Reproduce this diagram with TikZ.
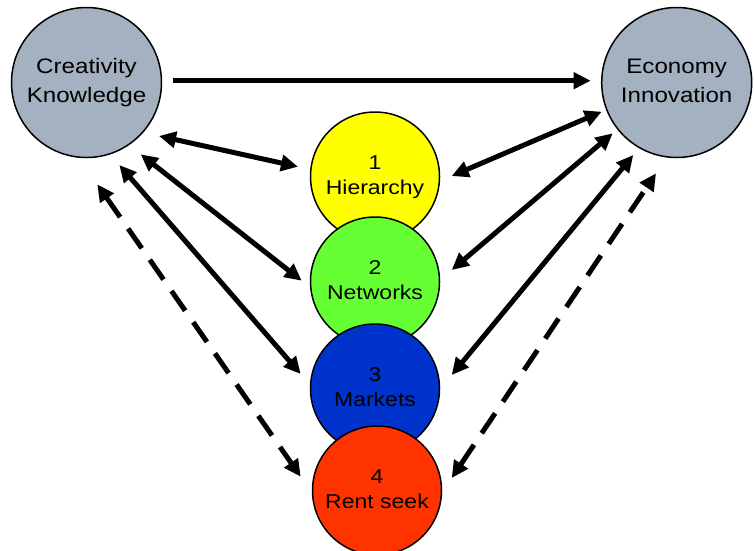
\documentclass[tikz,border=0pt]{standalone}
\usepackage{fontspec}
\setmainfont{Liberation Sans}
\usepackage{graphicx}
\usetikzlibrary{arrows.meta,calc}
\definecolor{greyblue}{RGB}{164,177,192}
\definecolor{cyellow}{RGB}{255,255,0}
\definecolor{cgreen}{RGB}{102,255,51}
\definecolor{cblue}{RGB}{0,51,204}
\definecolor{cred}{RGB}{255,51,0}
\newcommand{\bigtext}[2]{\scalebox{1.15}[1]{\fontsize{21}{29}\selectfont\begin{tabular}{@{}c@{}}#1\\#2\end{tabular}}}
\newcommand{\smalltext}[2]{\scalebox{1.15}[1]{\fontsize{20}{25}\selectfont\begin{tabular}{@{}c@{}}#1\\#2\end{tabular}}}
\begin{document}
\begin{tikzpicture}[x=1pt,y=1pt,
  bigcirc/.style={circle,draw=black,line width=1.5pt,fill=greyblue,minimum size=150pt,inner sep=0pt},
  midcirc/.style={circle,draw=black,line width=1.5pt,minimum size=129pt,inner sep=0pt},
  conn/.style={line width=5pt,-{Triangle[length=17pt,width=16pt]}},
  dbl/.style={line width=5pt,{Triangle[length=17pt,width=16pt]}-{Triangle[length=17pt,width=16pt]}},
  dsh/.style={dbl,dash pattern=on 24pt off 14pt}]
\useasboundingbox (0,0) rectangle (754,-550);
\node[bigcirc] (L) at (86.5,-82.5) {\bigtext{Creativity}{Knowledge}};
\node[bigcirc] (R) at (676.7,-82.5) {\bigtext{Economy}{Innovation}};
\node[midcirc,fill=cyellow] (H) at (375,-176.5) {\smalltext{1}{Hierarchy}};
\node[midcirc,fill=cgreen] (N) at (375,-281.5) {\smalltext{2}{Networks}};
\node[midcirc,fill=cblue] (M) at (375,-388.5) {\smalltext{3}{Markets}};
\node[midcirc,fill=cred] (S) at (377,-490.5) {\smalltext{4}{Rent seek}};
% top arrow
\draw[conn] ($(L)+(86.2,1.8)$) -- ($(R)+(-86,1.8)$);
% left arrows
\draw[dbl] ($(L)+(72.5,-53.5)$) -- ($(H)+(-77,9.8)$);
\draw[dbl] ($(L)+(54.2,-71.8)$) -- ($(N)+(-73.3,0.8)$);
\draw[dbl] ($(L)+(32.8,-82.5)$) -- ($(M)+(-74.3,14.5)$);
\draw[dsh] ($(L)+(10.8,-101.8)$) -- ($(S)+(-76.3,13.8)$);
% right arrows
\draw[dbl] ($(H)+(76.7,0.5)$) -- ($(R)+(-75,-29.2)$);
\draw[dbl] ($(N)+(76.7,11.5)$) -- ($(R)+(-64,-50.8)$);
\draw[dbl] ($(M)+(76.7,13.5)$) -- ($(R)+(-43.4,-72.5)$);
\draw[dsh] ($(S)+(74.7,12.5)$) -- ($(R)+(-20.7,-90.8)$);
\end{tikzpicture}
\end{document}
